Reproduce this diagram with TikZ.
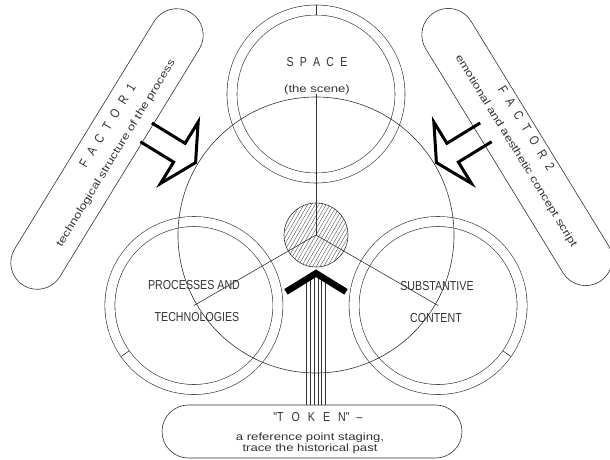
\documentclass[tikz,border=0pt]{standalone}
\usepackage{fontspec}
\usetikzlibrary{calc,shapes.misc}
\newfontfamily\cadcaps{Liberation Sans}[FakeStretch=0.82]
\newfontfamily\cadtext{Liberation Sans}[FakeStretch=1.25]
\newcommand{\lgap}[1][6.2pt]{\hspace{#1}}

\begin{document}
\begin{tikzpicture}[x=1pt, y=1pt, line width=0.6pt, color=black!80,
  caps/.style={font=\cadcaps\fontsize{13}{15}\selectfont, anchor=base, inner sep=0pt},
  lower/.style={font=\cadtext\fontsize{10.5}{11}\selectfont, anchor=base, inner sep=0pt},
  ring/.style={circle, draw, double, double distance=9.4pt, minimum size=168pt, inner sep=0pt},
  pill/.style={rounded rectangle, draw, minimum height=53pt, inner sep=0pt},
  hatchline/.style={line width=0.4pt, black!65},
  hollowarrow/.pic={\draw[black, line width=3pt] (-58,11) -- (-19,11) -- (-19,36) -- (0,0) -- (-19,-36) -- (-19,-11) -- (-58,-11);}]
  \useasboundingbox (0,0) rectangle (610,-459);
  \coordinate (mid) at (316,-235);
  % ---------------------------------------------------------------- three rings
  \node[ring] (space) at ($(mid)+(90:141)$) {};
  \node[ring] (proc) at ($(mid)+(210:141)$) {};
  \node[ring] (cont) at ($(mid)+(330:141)$) {};
  \foreach \r/\a in {space/90, proc/215, cont/325}
    \draw ($(\r.center)+(\a:79)$) -- ($(\r.center)+(\a:89)$);
  % big circle
  \node[circle, draw, minimum size=276pt, inner sep=0pt] (whole) at (mid) {};
  % ---------------------------------------------------------------- hatched hub
  \begin{scope}
    \clip (mid) circle[radius=32];
    \foreach \k in {-10,...,10}
      \draw[hatchline, shift={(mid)}, rotate=60] (-40,{\k*3.2}) -- (40,{\k*3.2});
  \end{scope}
  \node[circle, draw, minimum size=64pt, inner sep=0pt] (hub) at (mid) {};
  \foreach \r in {space,proc,cont}
    \draw (mid) -- (\r.center);
  % labels
  \node[caps] (spacetitle) at (317,-66) {S\lgap P\lgap A\lgap C\lgap E};
  \node[lower] (spacenote) at (317,-92) {(the scene)};
  \node[caps] (procA) at (194,-289.6) {PROCESSES AND};
  \node[caps] (procB) at (197,-321.6) {TECHNOLOGIES};
  \node[caps] (contA) at (437,-290.6) {SUBSTANTIVE};
  \node[caps] (contB) at (436,-322.6) {CONTENT};
  % ---------------------------------------------------------------- token
  \node[pill, minimum width=300pt] (token) at (312,-431.5) {};
  \node[caps] (tokentitle) at (318,-421.5) {"T\lgap[8pt]O\lgap[8pt]K\lgap[8pt]E\lgap[8pt]N"\lgap[7pt]–};
  \node[lower] (tokenline) at (310,-440) {a reference point staging,};
  \node[lower] (tokenpast) at (310,-451) {trace the historical past};
  \foreach \dx in {-9.5,-5.7,-1.9,1.9,5.7,9.5} {
    \coordinate (wire) at ($(hub.south)+(\dx,0)$);
    \draw (wire |- token.north) -- ($(wire)+(0,{-6-abs(\dx)*0.62})$);
  }
  \draw[black, line width=6.5pt] ($(hub.south)+(-30,-24.5)$) -- ($(hub.south)+(0,-6)$) -- ($(hub.south)+(30,-24.5)$);
  % ---------------------------------------------------------------- factor 1
  \begin{scope}[shift={(107,-149)}, rotate=58.5]
    \node[pill, minimum width=320pt, transform shape] (factorA) at (0,0) {};
    \node[caps, transform shape] (factorAtitle) at (20,7.4) {F\lgap[7.7pt]A\lgap[7.7pt]C\lgap[7.7pt]T\lgap[7.7pt]O\lgap[7.7pt]R\lgap[7.7pt]1};
    \node[lower, transform shape] (factorAtext) at (1,-12.8) {technological structure of the process};
  \end{scope}
  % ---------------------------------------------------------------- factor 2
  \begin{scope}[shift={(517,-147)}, rotate=-58.5]
    \node[pill, minimum width=316pt, transform shape] (factorB) at (0,0) {};
    \node[caps, transform shape] (factorBtitle) at (-11,13.4) {F\lgap[7.7pt]A\lgap[7.7pt]C\lgap[7.7pt]T\lgap[7.7pt]O\lgap[7.7pt]R\lgap[7.7pt]2};
    \node[lower, transform shape] (factorBtext) at (3,-5.8) {emotional and aesthetic concept script};
  \end{scope}
  % hollow arrows from the factors onto the scene
  \coordinate (tipA) at ($(mid)+(149:140.5)$);
  \coordinate (tipB) at ($(mid)+(31:140.5)$);
  \pic[rotate=-31.5] at (tipA) {hollowarrow};
  \pic[rotate=211.5] at (tipB) {hollowarrow};
\end{tikzpicture}
\end{document}
